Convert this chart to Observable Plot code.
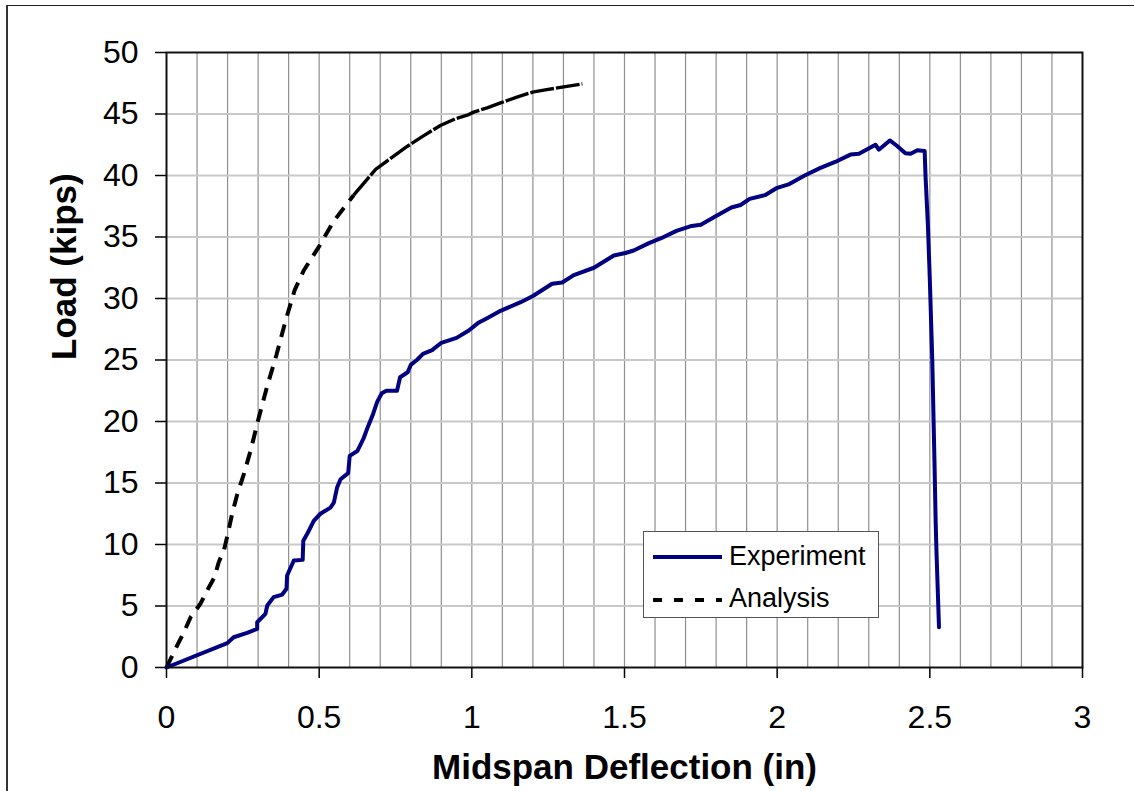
<!DOCTYPE html>
<html>
<head>
<meta charset="utf-8">
<script src="https://cdn.jsdelivr.net/npm/d3@7"></script>
<script src="https://cdn.jsdelivr.net/npm/@observablehq/plot@0.6"></script>
<style>
  html, body { margin: 0; padding: 0; background: white; }
  #wrap { position: relative; width: 1134px; height: 791px; overflow: hidden; font-family: "Liberation Sans", Arial, sans-serif; }
  #outer { position: absolute; left: 6px; top: 5px; right: -10px; bottom: -10px; border-top: 1.5px solid #222; border-left: 2px solid #333; pointer-events: none; }
  #legend { position: absolute; left: 643px; top: 531px; width: 236px; height: 87px; box-sizing: border-box; border: 1.5px solid #555; background: white; }
</style>
</head>
<body>
<div id="wrap">
  <div id="chart"></div>
  <div id="outer"></div>
  <div id="legend"></div>
</div>
<script>
// Tick labels / gridlines
const xTicks = [0, 0.5, 1, 1.5, 2, 2.5, 3];
const yTicks = [0, 5, 10, 15, 20, 25, 30, 35, 40, 45, 50];
const xGrid = [0.1,0.2,0.3,0.4,0.5,0.6,0.7,0.8,0.9,1,1.1,1.2,1.3,1.4,1.5,1.6,1.7,1.8,1.9,2,2.1,2.2,2.3,2.4,2.5,2.6,2.7,2.8,2.9];
const yGrid = [5, 10, 15, 20, 25, 30, 35, 40, 45];

// Series names
const seriesNames = ["Experiment", "Analysis"];

// Experiment: midspan deflection (in) and load (kips)
const expX = [0, 0.199, 0.22, 0.264, 0.297, 0.297, 0.324, 0.33, 0.351, 0.379, 0.393, 0.395, 0.417, 0.446, 0.448, 0.461, 0.483, 0.504, 0.537, 0.548, 0.559, 0.57, 0.595, 0.6, 0.625,
  0.645, 0.66, 0.675, 0.69, 0.705, 0.72, 0.755, 0.765, 0.79, 0.8, 0.82, 0.84, 0.87, 0.9, 0.95, 0.99, 1.02, 1.05, 1.094, 1.16, 1.2, 1.263, 1.296, 1.334, 1.4, 1.465, 1.503, 1.53,
  1.58, 1.62, 1.67, 1.72, 1.75, 1.8, 1.85, 1.88, 1.91, 1.96, 2.0, 2.04, 2.09, 2.14, 2.19, 2.24, 2.268, 2.322, 2.333, 2.369, 2.393, 2.42, 2.437, 2.459, 2.483,
  2.486, 2.494, 2.5, 2.508, 2.515, 2.519, 2.522, 2.53];
const expY = [0, 1.98, 2.46, 2.82, 3.14, 3.68, 4.36, 5.04, 5.72, 5.93, 6.4, 7.48, 8.7, 8.75, 10.3, 10.87, 11.95, 12.5, 13.0, 13.4, 14.66, 15.3, 15.8, 17.2, 17.6,
  18.6, 19.6, 20.5, 21.6, 22.3, 22.5, 22.5, 23.6, 24.0, 24.6, 25.0, 25.5, 25.8, 26.4, 26.8, 27.4, 28.0, 28.4, 29.0, 29.7, 30.2, 31.2, 31.3, 31.9, 32.5, 33.5, 33.7, 33.9,
  34.5, 34.9, 35.5, 35.9, 36.0, 36.7, 37.4, 37.6, 38.1, 38.4, 39.0, 39.3, 40.0, 40.6, 41.1, 41.7, 41.76, 42.5, 42.1, 42.85, 42.4, 41.8, 41.76, 42.05, 42.0,
  39.9, 35.8, 31.5, 25.0, 17.0, 11.95, 9.24, 3.28];

// Analysis
const anaX = [0, 0.035, 0.057, 0.079, 0.111, 0.139, 0.157, 0.171, 0.188, 0.201, 0.215, 0.232, 0.253, 0.275, 0.30, 0.33, 0.36, 0.39, 0.42, 0.45, 0.499, 0.548, 0.613,
  0.685, 0.734, 0.788, 0.84, 0.897, 0.945, 0.985, 1.006, 1.05, 1.094, 1.15, 1.203, 1.25, 1.301, 1.362];
const anaY = [0, 1.79, 2.87, 4.09, 5.18, 6.53, 7.34, 8.56, 9.51, 10.87, 12.5, 14.1, 15.7, 17.6, 20.1, 22.9, 25.4, 28.2, 30.7, 32.3, 34.2, 36.3, 38.4,
  40.5, 41.4, 42.36, 43.2, 44.07, 44.6, 44.9, 45.15, 45.5, 45.9, 46.4, 46.8, 47.0, 47.2, 47.45];

const expData = expX.map((x, i) => ({x, y: expY[i], series: seriesNames[0]}));
const anaData = anaX.map((x, i) => ({x, y: anaY[i], series: seriesNames[1]}));
const splitAt = 0.613;

const font = "'Liberation Sans', Arial, sans-serif";

const chart = Plot.plot({
  width: 1134,
  height: 791,
  marginLeft: 166,
  marginRight: 52,
  marginTop: 52,
  marginBottom: 124,
  x: {domain: [0, 3]},
  y: {domain: [0, 50]},
  style: {fontFamily: font, background: "white", color: "black", overflow: "visible"},
  marks: [
    Plot.ruleX(xGrid, {stroke: "#8f8f8f", strokeWidth: 1.2}),
    Plot.ruleY(yGrid, {stroke: "#c8c8c8", strokeWidth: 2}),
    Plot.axisX({ticks: xTicks, tickSize: 11, tickPadding: 27, fontSize: 32, label: null, tickFormat: d => String(d), stroke: "black", strokeWidth: 1.5}),
    Plot.axisY({ticks: yTicks, tickSize: 11, tickPadding: 17, fontSize: 32, label: null, tickFormat: d => String(d), stroke: "black", strokeWidth: 1.5}),
    Plot.line(anaData.filter(d => d.x <= splitAt), {x: "x", y: "y", stroke: "black", strokeWidth: 4, strokeDasharray: "13,9", strokeLinecap: "butt", curve: "linear"}),
    Plot.line(anaData.filter(d => d.x >= splitAt), {x: "x", y: "y", stroke: "black", strokeWidth: 3.4, strokeDasharray: "24,2", strokeLinecap: "butt", curve: "linear"}),
    Plot.line(expData, {x: "x", y: "y", stroke: "#000080", strokeWidth: 4, strokeLinejoin: "round", curve: "linear"}),
    Plot.frame({stroke: "#111", strokeWidth: 2}),
    Plot.text(["Midspan Deflection (in)"], {frameAnchor: "bottom", dy: 100, lineAnchor: "middle", fontSize: 35, fontWeight: "bold", fill: "black"}),
    Plot.text(["Load (kips)"], {frameAnchor: "left", dx: -102, rotate: -90, lineAnchor: "middle", fontSize: 35, fontWeight: "bold", fill: "black"})
  ]
});
document.getElementById("chart").appendChild(chart);

// Legend
const legend = d3.select("#legend").append("svg").attr("width", 233).attr("height", 84).style("display", "block");
const items = [
  {name: seriesNames[0], stroke: "#000080", dash: null, y: 25, base: 33},
  {name: seriesNames[1], stroke: "black", dash: "9,12", y: 68, base: 75}
];
items.forEach(it => {
  const l = legend.append("line").attr("x1", 9).attr("x2", 78).attr("y1", it.y).attr("y2", it.y)
    .attr("stroke", it.stroke).attr("stroke-width", 3.8);
  if (it.dash) l.attr("stroke-dasharray", it.dash);
  legend.append("text").attr("x", 85).attr("y", it.base).text(it.name)
    .attr("font-family", font).attr("font-size", 27).attr("fill", "black");
});
</script>
</body>
</html>
